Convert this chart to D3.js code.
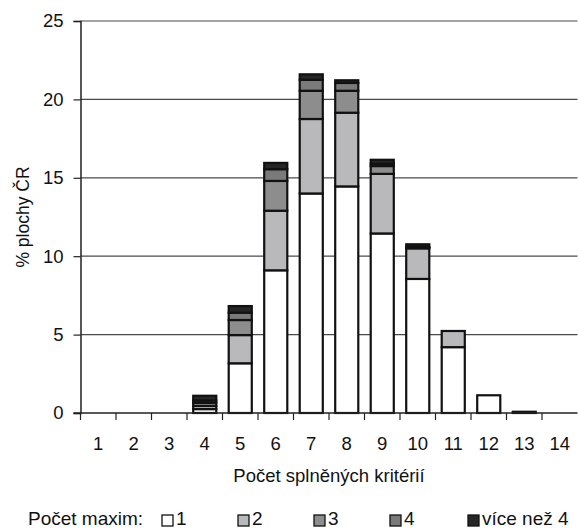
<!DOCTYPE html>
<html>
<head>
<meta charset="utf-8">
<script src="https://cdn.jsdelivr.net/npm/d3@7"></script>
<style>
  html, body { margin: 0; padding: 0; background: #fff; }
  svg text { font-family: Arial, "Liberation Sans", sans-serif; fill: #111; }
</style>
</head>
<body>
<svg id="chart" width="579" height="531"></svg>
<script>
// Number of fulfilled criteria (x categories)
const categories = ["1","2","3","4","5","6","7","8","9","10","11","12","13","14"];
// Share of the Czech Republic area (%) by number of maxima
const max1   = [0, 0, 0, 0.25, 3.17, 9.1, 14.0, 14.45, 11.45, 8.55, 4.2, 1.13, 0.08, 0];
const max2   = [0, 0, 0, 0.2,  1.8,  3.8, 4.75, 4.7,   3.8,   1.95, 1.03, 0, 0, 0];
const max3   = [0, 0, 0, 0.2,  0.96, 1.9, 1.8,  1.4,   0.5,   0.05, 0, 0, 0, 0];
const max4   = [0, 0, 0, 0.15, 0.47, 0.75, 0.7, 0.5,   0.15,  0.05, 0, 0, 0, 0];
const maxGt4 = [0, 0, 0, 0.3,  0.42, 0.4, 0.35, 0.17,  0.25,  0.16, 0, 0, 0, 0];
const seriesNames = ["1", "2", "3", "4", "více než 4"];
const seriesColors = ["#ffffff", "#b9b9bb", "#8d8d8d", "#7a7a7a", "#262626"];
const yTicks = [0, 5, 10, 15, 20, 25];

const allSeries = [max1, max2, max3, max4, maxGt4];
const rows = categories.map((c, i) => {
  const r = { cat: c };
  seriesNames.forEach((s, k) => r[s] = allSeries[k][i]);
  return r;
});

const FS = 18.5;
const svg = d3.select("#chart");
const margin = { left: 80.5, right: 1.5, top: 21, bottom: 118 };
const W = 579, H = 531;
const x = d3.scaleBand().domain(categories)
  .range([margin.left, W - margin.right]).paddingInner(0.35).paddingOuter(0.175);
const y = d3.scaleLinear().domain([0, 25]).range([H - margin.bottom, margin.top]);

// horizontal gridlines
svg.append("g").selectAll("line").data(yTicks.filter(d => d > 0)).join("line")
  .attr("x1", margin.left).attr("x2", W - margin.right)
  .attr("y1", d => y(d)).attr("y2", d => y(d))
  .attr("stroke", "#4a4a4a").attr("stroke-width", 1.2);

// stacked bars
const stack = d3.stack().keys(seriesNames)(rows);
const layers = svg.append("g").selectAll("g").data(stack).join("g")
  .attr("fill", (d, i) => seriesColors[i]);
layers.selectAll("rect").data(d => d.filter(p => p[1] - p[0] > 0)).join("rect")
  .attr("x", d => x(d.data.cat))
  .attr("width", x.bandwidth())
  .attr("y", d => y(d[1]))
  .attr("height", d => y(d[0]) - y(d[1]))
  .attr("stroke", "#111").attr("stroke-width", 2.2);

// y axis
const yAxis = d3.axisLeft(y).tickValues(yTicks).tickSize(7).tickPadding(10);
const gy = svg.append("g").attr("transform", `translate(${margin.left},0)`).call(yAxis);
gy.select(".domain").attr("stroke", "#222").attr("stroke-width", 1.5);
gy.selectAll(".tick line").attr("stroke", "#222").attr("stroke-width", 1.2);
gy.selectAll(".tick text").attr("font-size", FS).style("font-family", "Arial, 'Liberation Sans', sans-serif").attr("fill", "#111");

// x axis: ticks at category boundaries
const gx = svg.append("g").attr("transform", `translate(0,${y(0)})`);
gx.append("line").attr("x1", margin.left - 7).attr("x2", W - margin.right)
  .attr("stroke", "#222").attr("stroke-width", 1.5);
const step = x.step();
const bounds = d3.range(categories.length).map(i => margin.left + i * step);
gx.selectAll("line.tk").data(bounds).join("line").attr("class", "tk")
  .attr("x1", d => d).attr("x2", d => d).attr("y1", 0).attr("y2", 7)
  .attr("stroke", "#222").attr("stroke-width", 1.2);
gx.selectAll("text").data(categories).join("text")
  .attr("x", d => x(d) + x.bandwidth() / 2).attr("y", 37)
  .attr("text-anchor", "middle").attr("font-size", FS).text(d => d);

// axis titles
svg.append("text").attr("transform", `translate(29,${(y(0) + y(25)) / 2}) rotate(-90)`)
  .attr("text-anchor", "middle").attr("font-size", 17.5).text("% plochy ČR");
svg.append("text").attr("x", 329).attr("y", 482)
  .attr("text-anchor", "middle").attr("font-size", FS).text("Počet splněných kritérií");

// legend
const lg = svg.append("g").attr("transform", "translate(0,525)");
lg.append("text").attr("x", 28).attr("y", 0).attr("font-size", 19).text("Počet maxim:");
const legendX = [162, 238, 314, 390, 468];
seriesNames.forEach((s, i) => {
  lg.append("rect").attr("x", legendX[i]).attr("y", -10).attr("width", 11).attr("height", 11)
    .attr("fill", seriesColors[i]).attr("stroke", "#111").attr("stroke-width", 1.3);
  lg.append("text").attr("x", legendX[i] + 14).attr("y", 0).attr("font-size", 19).text(s);
});
</script>
</body>
</html>
